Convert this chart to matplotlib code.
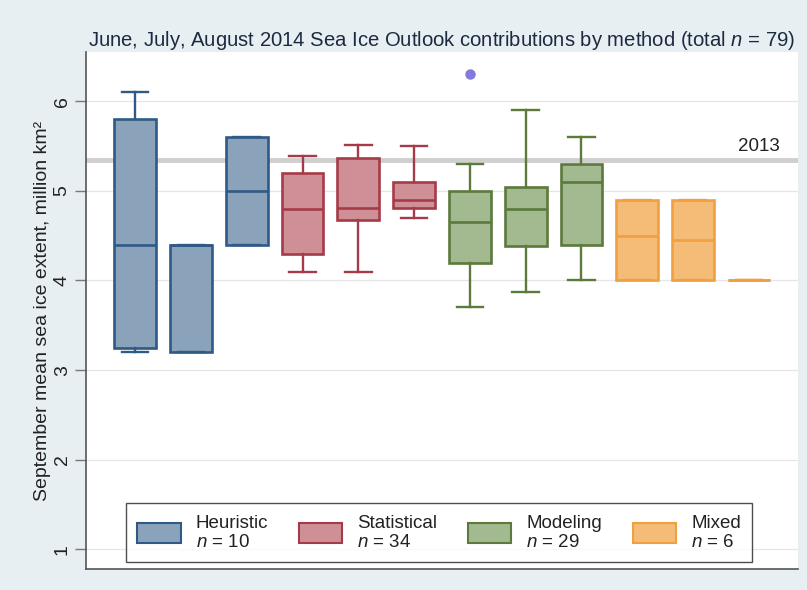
import matplotlib
matplotlib.use("Agg")
import matplotlib.pyplot as plt
from matplotlib.patches import Patch

plt.rcParams['font.family'] = ['Liberation Sans', 'DejaVu Sans']
plt.rcParams['mathtext.fontset'] = 'custom'
plt.rcParams['mathtext.rm'] = 'Liberation Sans'
plt.rcParams['mathtext.it'] = 'Liberation Sans:italic'

# ---- data ----
methods = ['Heuristic', 'Statistical', 'Modeling', 'Mixed']
method_n = [10, 34, 29, 6]
box_method = ['Heuristic'] * 3 + ['Statistical'] * 3 + ['Modeling'] * 3 + ['Mixed'] * 3
whislo = [3.20, 3.20, 4.40, 4.10, 4.10, 4.70, 3.70, 3.87, 4.00, 4.00, 4.00, 4.00]
q1 = [3.25, 3.20, 4.40, 4.30, 4.67, 4.81, 4.20, 4.39, 4.40, 4.00, 4.00, 4.00]
med = [4.40, 4.40, 5.00, 4.80, 4.81, 4.90, 4.65, 4.80, 5.10, 4.50, 4.45, 4.00]
q3 = [5.80, 4.40, 5.60, 5.20, 5.37, 5.10, 5.00, 5.04, 5.30, 4.90, 4.90, 4.00]
whishi = [6.10, 4.40, 5.60, 5.39, 5.51, 5.50, 5.30, 5.90, 5.60, 4.90, 4.90, 4.00]
fliers = [[], [], [], [], [], [], [6.30], [], [], [], [], []]
ref_2013 = 5.34
yticks = [1, 2, 3, 4, 5, 6]

face = {'Heuristic': '#8ba2bb', 'Statistical': '#cf8f97',
        'Modeling': '#a3b98f', 'Mixed': '#f5bc78'}
edge = {'Heuristic': '#2f5a85', 'Statistical': '#a53b48',
        'Modeling': '#5b7a3c', 'Mixed': '#f0a040'}

fig = plt.figure(figsize=(8.07, 5.90), dpi=100)
fig.patch.set_facecolor('#e8eff2')
ax = fig.add_axes([86 / 807, 21 / 590, 712 / 807, 517 / 590])
ax.set_facecolor('white')

positions = list(range(1, len(med) + 1))
stats = []
for i in range(len(med)):
    stats.append(dict(med=med[i], q1=q1[i], q3=q3[i], whislo=whislo[i],
                      whishi=whishi[i], fliers=fliers[i]))

for i, st in enumerate(stats):
    m = box_method[i]
    ax.bxp([st], positions=[positions[i]], widths=0.75, capwidths=0.48,
           patch_artist=True, showfliers=True,
           boxprops=dict(facecolor=face[m], edgecolor=edge[m], linewidth=1.9),
           medianprops=dict(color=edge[m], linewidth=1.9),
           whiskerprops=dict(color=edge[m], linewidth=1.7),
           capprops=dict(color=edge[m], linewidth=1.7),
           flierprops=dict(marker='o', markerfacecolor='#8479dc',
                           markeredgecolor='#8479dc', markersize=6.5),
           zorder=3)

# 2013 reference line
ax.axhline(ref_2013, color='#cfcfcf', linewidth=3.5, zorder=1)
ax.text(12.56, ref_2013 + 0.06, '2013', ha='right', va='bottom',
        fontsize=13.5, color='#222222')

ax.set_xlim(0.12, 12.88)
ax.set_ylim(0.78, 6.55)
ax.set_yticks(yticks)
ax.set_yticklabels([str(t) for t in yticks], rotation=90, va='center',
                   fontsize=14, color='#222222')
ax.set_xticks([])
ax.tick_params(axis='y', length=8, width=1, color='#777777', pad=3)
ax.grid(axis='y', color='#e6e6e6', linewidth=0.9, zorder=0)
ax.set_axisbelow(True)

for s in ['top', 'right']:
    ax.spines[s].set_visible(False)
for s in ['left', 'bottom']:
    ax.spines[s].set_color('#555555')
    ax.spines[s].set_linewidth(1.2)

ax.set_ylabel('September mean sea ice extent, million km²', fontsize=14,
              color='#222222', labelpad=2)

fig.text((86 + 798) / 2 / 807, 1 - 40 / 590,
         'June, July, August 2014 Sea Ice Outlook contributions by method (total $\\it{n}$ = 79)',
         ha='center', va='center', fontsize=14.6, color='#1c2a40')

handles = [Patch(facecolor=face[m], edgecolor=edge[m], linewidth=1.5) for m in methods]
labels = [f'{m}\n$\\it{{n}}$ = {n}' for m, n in zip(methods, method_n)]
leg = ax.legend(handles, labels, ncol=4, loc='lower center',
                bbox_to_anchor=(0.496, 0.013), fontsize=13.5, frameon=True,
                fancybox=False, edgecolor='#222222', handlelength=2.3,
                handleheight=1.3, columnspacing=1.65, labelspacing=0.2,
                borderpad=0.6, handletextpad=0.8, borderaxespad=0)
leg.get_frame().set_linewidth(1.0)
for t in leg.get_texts():
    t.set_linespacing(1.18)
    t.set_multialignment('left')
    t.set_color('#222222')

fig.savefig('out.png', dpi=100, facecolor=fig.get_facecolor())
